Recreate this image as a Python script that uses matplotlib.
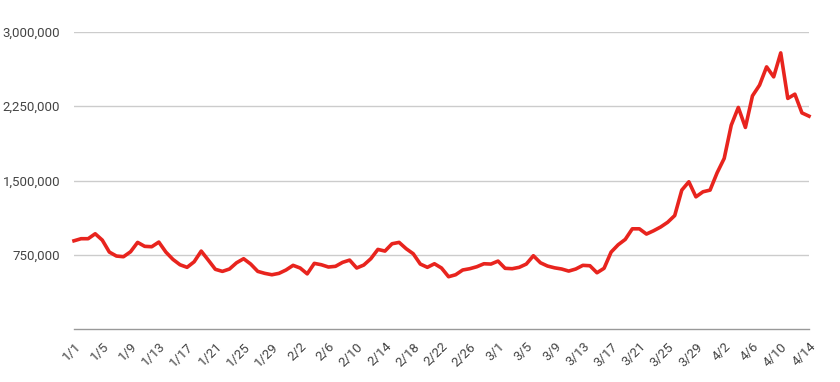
import matplotlib
matplotlib.use("Agg")
import matplotlib.pyplot as plt
from matplotlib.ticker import FuncFormatter, FixedLocator
from matplotlib.transforms import ScaledTranslation

# Daily values, 1/1 .. 4/14 (2020)
values = [
    891, 912, 912, 962, 898, 777, 737, 730, 780, 875,
    835, 831, 878, 777, 703, 649, 623, 679, 787, 696,
    603, 582, 606, 669, 710, 656, 582, 562, 548, 562,
    596, 643, 616, 557, 663, 649, 626, 633, 673, 696,
    616, 646, 710, 804, 787, 861, 875, 811, 760, 656,
    623, 659, 616, 528, 548, 596, 609, 629, 659, 656,
    686, 613, 609, 623, 656, 740, 669, 636, 618, 606,
    585, 606, 643, 639, 568, 613, 777, 851, 905, 1012,
    1012, 959, 992, 1030, 1078, 1146, 1403, 1487, 1335, 1386,
    1403, 1578, 1723, 2059, 2238, 2036, 2355, 2463, 2648, 2547,
    2789, 2329, 2372, 2183, 2150,
]
values = [v * 1000 for v in values]

tick_labels = ["1/1", "1/5", "1/9", "1/13", "1/17", "1/21", "1/25", "1/29",
               "2/2", "2/6", "2/10", "2/14", "2/18", "2/22", "2/26", "3/1",
               "3/5", "3/9", "3/13", "3/17", "3/21", "3/25", "3/29", "4/2",
               "4/6", "4/10", "4/14"]
tick_every = 4
y_ticks = [750000, 1500000, 2250000, 3000000]

plt.rcParams['font.family'] = ['Roboto', 'DejaVu Sans']

fig = plt.figure(figsize=(8.4, 3.82), dpi=100)
ax = fig.add_axes([74 / 840, 1 - 329 / 382, (809 - 74) / 840, (329 - 32) / 382])

x = list(range(len(values)))
ax.plot(x, values, color='#e8241e', lw=2.6, solid_joinstyle='round', zorder=3, clip_on=False)

ax.set_xlim(0, len(values) - 1)
ax.set_ylim(0, 3000000)

ax.yaxis.set_major_locator(FixedLocator(y_ticks))
ax.yaxis.set_major_formatter(FuncFormatter(lambda v, p: f"{int(v):,}"))
ax.grid(axis='y', color='#cccccc', lw=1)
ax.set_axisbelow(True)

xt = [i * tick_every for i in range(len(tick_labels))]
ax.set_xticks(xt)
ax.set_xticklabels(tick_labels, rotation=45, ha='right', va='top', rotation_mode='anchor')
offset = ScaledTranslation(6 / 100, 0, fig.dpi_scale_trans)
for lbl in ax.get_xticklabels():
    lbl.set_transform(lbl.get_transform() + offset)

for s in ['top', 'right', 'left']:
    ax.spines[s].set_visible(False)
ax.spines['bottom'].set_color('#999999')
ax.spines['bottom'].set_linewidth(1)

ax.tick_params(axis='both', length=0, colors='#444444', labelsize=9.5)
ax.tick_params(axis='y', pad=10)
ax.tick_params(axis='x', pad=8)

fig.savefig('out.png', dpi=100)
